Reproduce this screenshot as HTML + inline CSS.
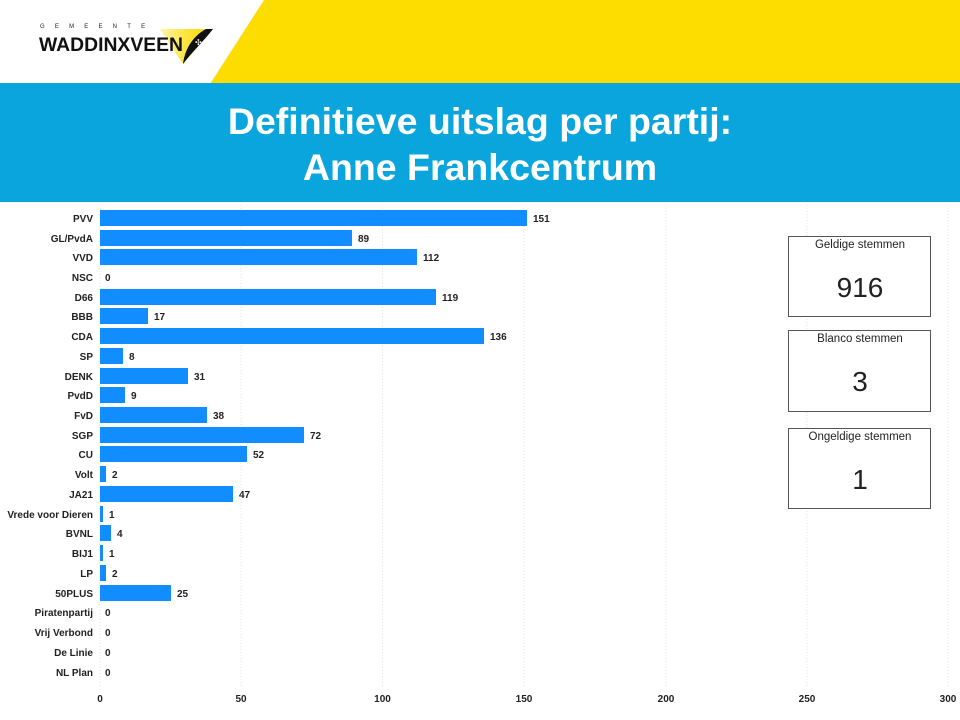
<!DOCTYPE html>
<html><head><meta charset="utf-8"><style>
html,body{margin:0;padding:0;background:#fff;}
body{width:960px;height:720px;overflow:hidden;position:relative;font-family:"Liberation Sans",sans-serif;}
</style></head><body>
<svg width="960" height="720" viewBox="0 0 960 720" xmlns="http://www.w3.org/2000/svg" style="position:absolute;left:0;top:0">
<defs>
<linearGradient id="tg" x1="0" y1="0" x2="1" y2="0">
<stop offset="0" stop-color="#fff6b0"/><stop offset="0.5" stop-color="#fde43a"/><stop offset="1" stop-color="#f7d800"/>
</linearGradient>
</defs>
<rect width="960" height="720" fill="#fff"/>
<!-- header yellow -->
<polygon points="264,0 960,0 960,84 210,84" fill="#fddc00"/>
<!-- logo -->
<polygon points="160,29 213,29 183,64" fill="url(#tg)"/>
<path d="M213,29 C198,33 186,42 183,64 C192,52 203,42 213,29 Z" fill="#111"/>
<path d="M206,29 C195,35 187,45 184,60 L183,64 C188,48 198,37 213,29 Z" fill="#111"/>
<text x="195" y="45" font-size="8" fill="#fff" font-family="Liberation Sans">✣</text>
<text x="40" y="28" font-family="Liberation Sans" font-size="6" fill="#222" letter-spacing="10.2">GEMEENTE</text>
<text x="39" y="51" font-family="Liberation Sans" font-size="19" font-weight="bold" fill="#111" textLength="144" lengthAdjust="spacingAndGlyphs">WADDINXVEEN</text>
<!-- blue band -->
<rect x="0" y="83" width="960" height="119" fill="#0ba5de"/>
<text x="480" y="134" text-anchor="middle" font-family="Liberation Sans" font-weight="bold" font-size="37.5" fill="#fff">Definitieve uitslag per partij:</text>
<text x="480" y="180" text-anchor="middle" font-family="Liberation Sans" font-weight="bold" font-size="37.5" fill="#fff">Anne Frankcentrum</text>
<!-- gridlines -->
<g stroke="#e3e3e3" stroke-width="1" stroke-dasharray="1,2">
<line x1="100" y1="205" x2="100" y2="686"/>
<line x1="241" y1="205" x2="241" y2="686"/>
<line x1="382.5" y1="205" x2="382.5" y2="686"/>
<line x1="524" y1="205" x2="524" y2="686"/>
<line x1="666" y1="205" x2="666" y2="686"/>
<line x1="807" y1="205" x2="807" y2="686"/>
<line x1="948" y1="205" x2="948" y2="686"/>
</g>
<g font-family="Liberation Sans" font-weight="bold" font-size="10" fill="#222" text-anchor="middle">
<text x="100" y="702">0</text>
<text x="241" y="702">50</text>
<text x="382.5" y="702">100</text>
<text x="524" y="702">150</text>
<text x="666" y="702">200</text>
<text x="807" y="702">250</text>
<text x="948" y="702">300</text>
</g>
<!-- boxes -->
<g fill="#fff" stroke="#555" stroke-width="1">
<rect x="788.5" y="236.5" width="142" height="80"/>
<rect x="788.5" y="330.5" width="142" height="81"/>
<rect x="788.5" y="428.5" width="142" height="80"/>
</g>
<g font-family="Liberation Sans" fill="#222" text-anchor="middle">
<text x="860" y="248" font-size="11.5">Geldige stemmen</text>
<text x="860" y="297" font-size="28">916</text>
<text x="860" y="342" font-size="11.5">Blanco stemmen</text>
<text x="860" y="391" font-size="28">3</text>
<text x="860" y="440" font-size="11.5">Ongeldige stemmen</text>
<text x="860" y="489" font-size="28">1</text>
</g>
<g font-family="Liberation Sans" font-weight="bold" font-size="10" fill="#222">
<g text-anchor="end">
<text x="93" y="222">PVV</text>
<text x="93" y="242">GL/PvdA</text>
<text x="93" y="261">VVD</text>
<text x="93" y="281">NSC</text>
<text x="93" y="301">D66</text>
<text x="93" y="320">BBB</text>
<text x="93" y="340">CDA</text>
<text x="93" y="360">SP</text>
<text x="93" y="380">DENK</text>
<text x="93" y="399">PvdD</text>
<text x="93" y="419">FvD</text>
<text x="93" y="439">SGP</text>
<text x="93" y="458">CU</text>
<text x="93" y="478">Volt</text>
<text x="93" y="498">JA21</text>
<text x="93" y="518">Vrede voor Dieren</text>
<text x="93" y="537">BVNL</text>
<text x="93" y="557">BIJ1</text>
<text x="93" y="577">LP</text>
<text x="93" y="597">50PLUS</text>
<text x="93" y="616">Piratenpartij</text>
<text x="93" y="636">Vrij Verbond</text>
<text x="93" y="656">De Linie</text>
<text x="93" y="676">NL Plan</text>
</g>
<g fill="#118dff">
<rect x="100" y="210" width="427" height="16"/>
<rect x="100" y="230" width="252" height="16"/>
<rect x="100" y="249" width="317" height="16"/>
<rect x="100" y="289" width="336" height="16"/>
<rect x="100" y="308" width="48" height="16"/>
<rect x="100" y="328" width="384" height="16"/>
<rect x="100" y="348" width="23" height="16"/>
<rect x="100" y="368" width="88" height="16"/>
<rect x="100" y="387" width="25" height="16"/>
<rect x="100" y="407" width="107" height="16"/>
<rect x="100" y="427" width="204" height="16"/>
<rect x="100" y="446" width="147" height="16"/>
<rect x="100" y="466" width="6" height="16"/>
<rect x="100" y="486" width="133" height="16"/>
<rect x="100" y="506" width="3" height="16"/>
<rect x="100" y="525" width="11" height="16"/>
<rect x="100" y="545" width="3" height="16"/>
<rect x="100" y="565" width="6" height="16"/>
<rect x="100" y="585" width="71" height="16"/>
</g>
<text x="533" y="222">151</text>
<text x="358" y="242">89</text>
<text x="423" y="261">112</text>
<text x="105" y="281">0</text>
<text x="442" y="301">119</text>
<text x="154" y="320">17</text>
<text x="490" y="340">136</text>
<text x="129" y="360">8</text>
<text x="194" y="380">31</text>
<text x="131" y="399">9</text>
<text x="213" y="419">38</text>
<text x="310" y="439">72</text>
<text x="253" y="458">52</text>
<text x="112" y="478">2</text>
<text x="239" y="498">47</text>
<text x="109" y="518">1</text>
<text x="117" y="537">4</text>
<text x="109" y="557">1</text>
<text x="112" y="577">2</text>
<text x="177" y="597">25</text>
<text x="105" y="616">0</text>
<text x="105" y="636">0</text>
<text x="105" y="656">0</text>
<text x="105" y="676">0</text>
</g>
</svg>
</body></html>
